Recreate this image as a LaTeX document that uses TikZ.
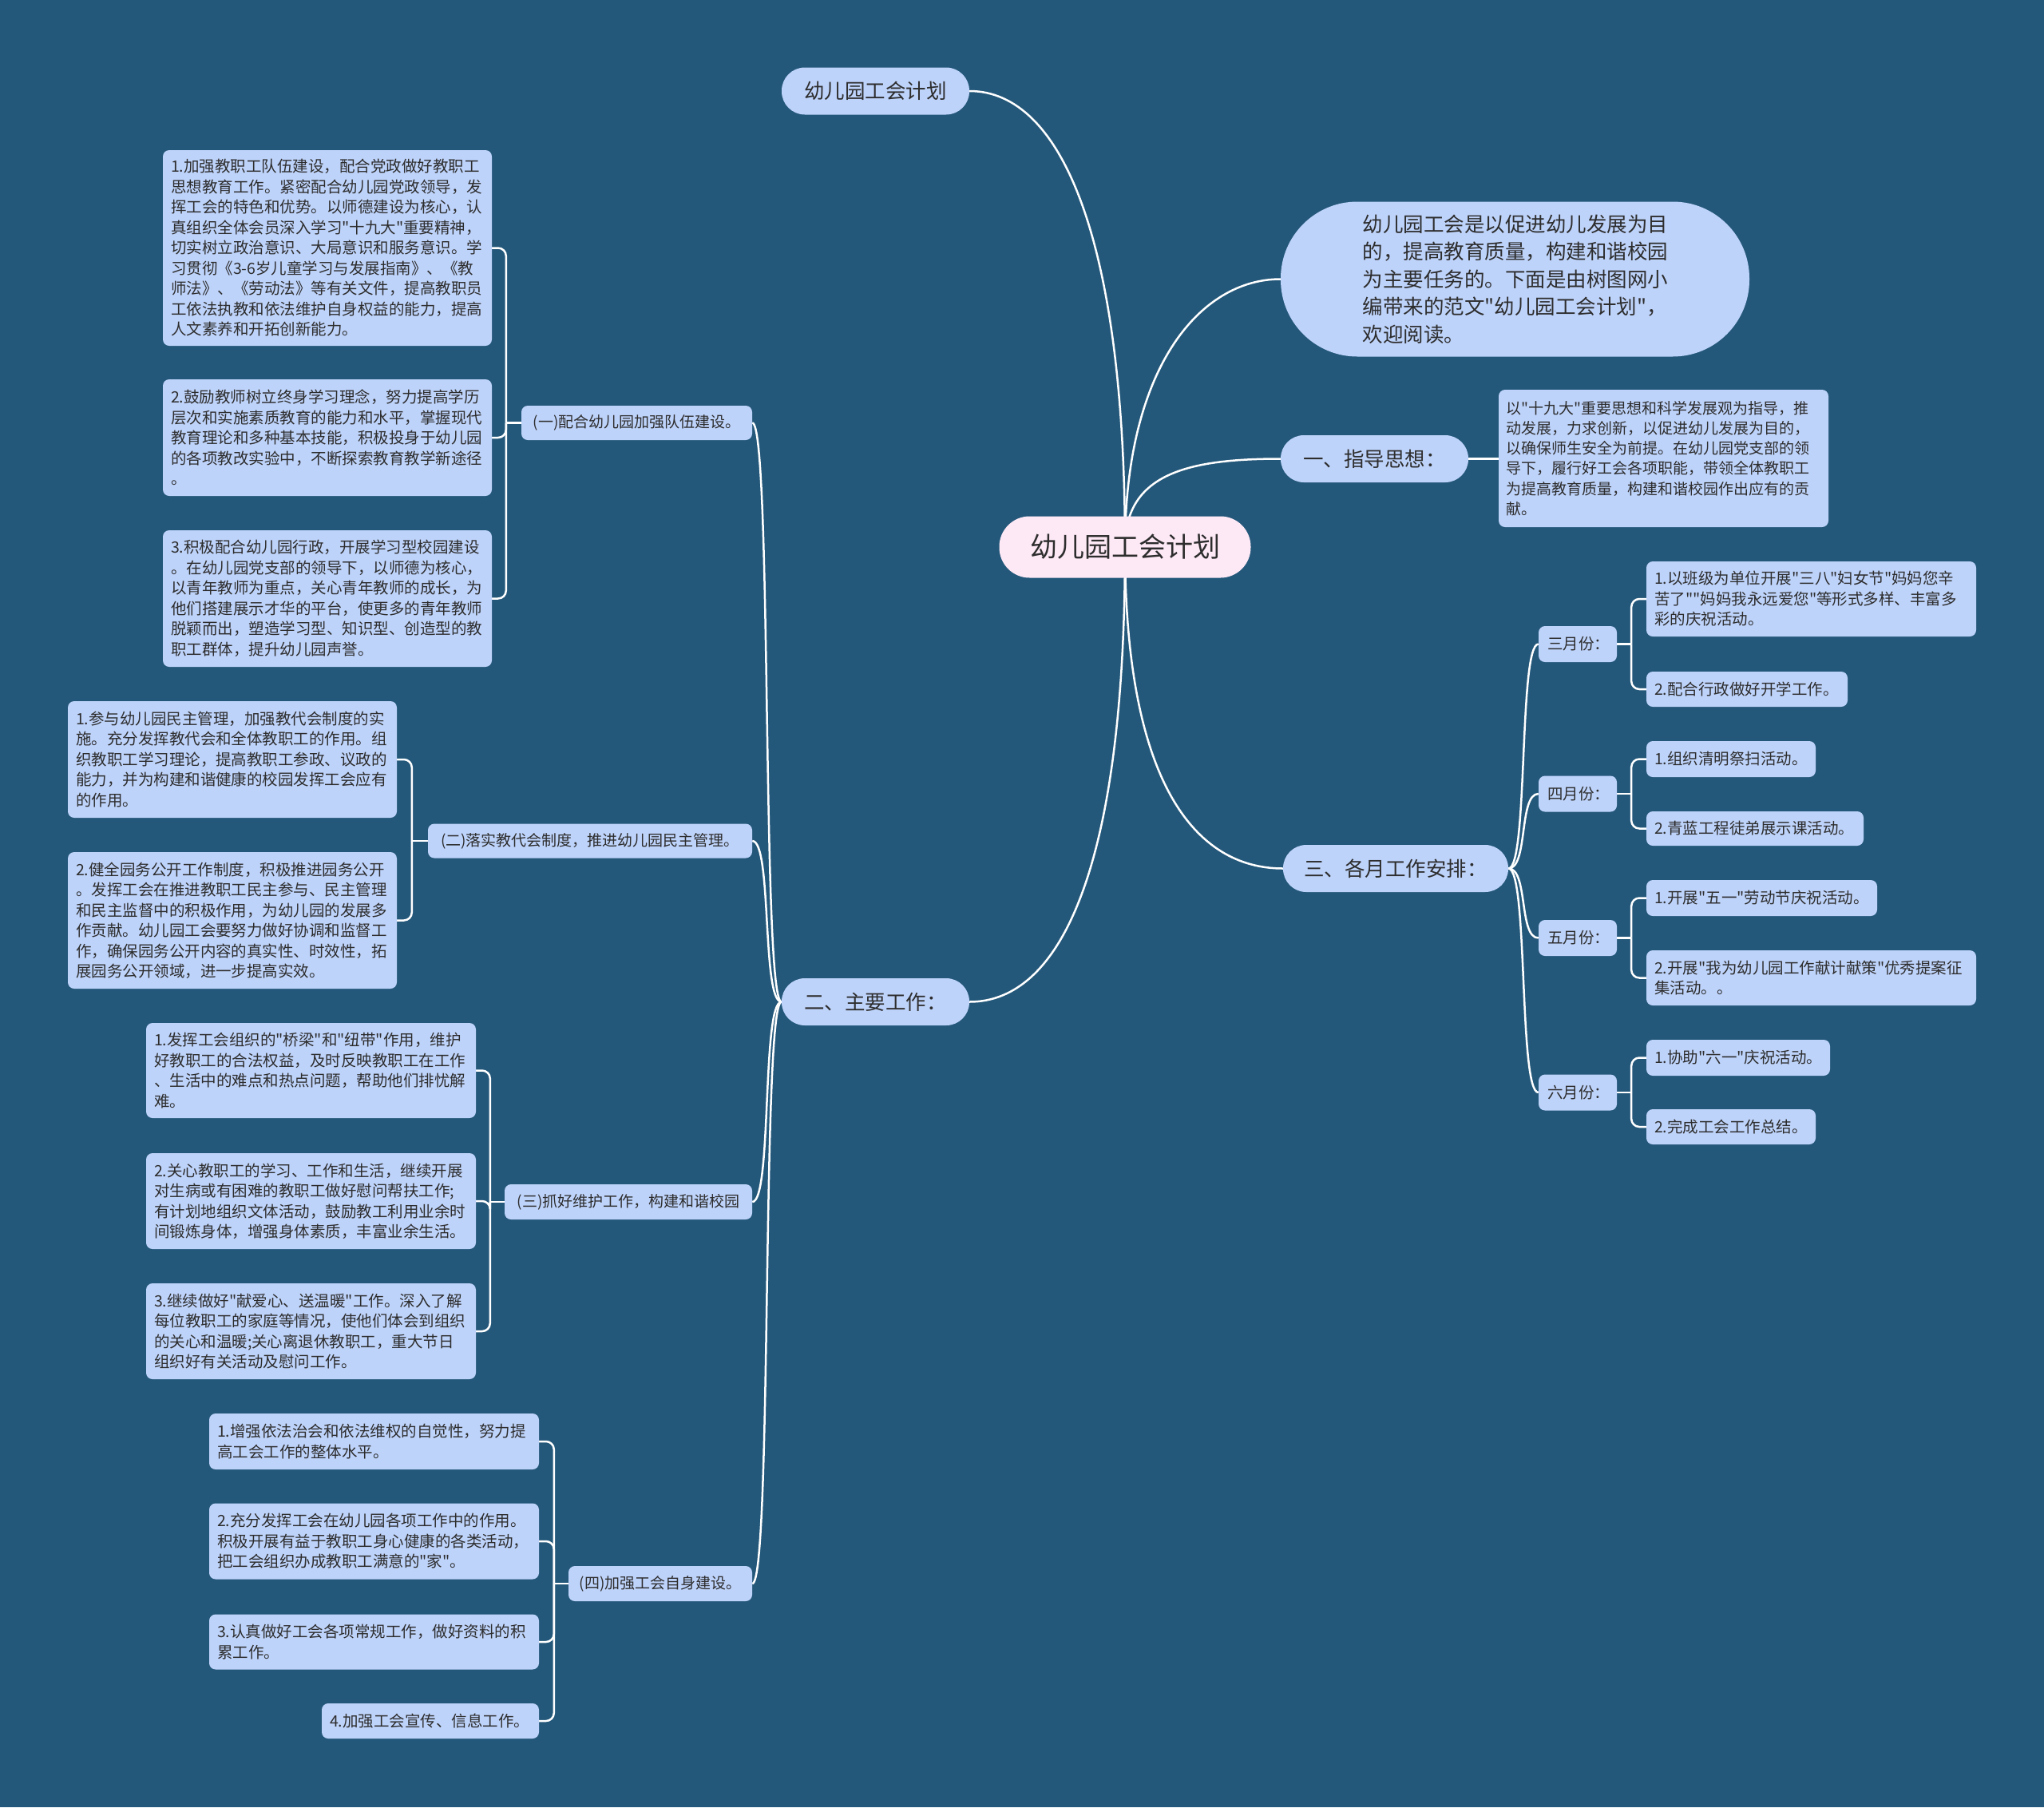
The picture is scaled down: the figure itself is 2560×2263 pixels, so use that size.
\documentclass[tikz,border=0pt]{standalone}
\usepackage{fontspec}
\newfontfamily\cj{Noto Sans CJK SC}
\definecolor{bgc}{HTML}{24587A}
\definecolor{leafc}{HTML}{BED3FA}
\definecolor{rootc}{HTML}{FDE8F5}
\definecolor{txt}{HTML}{2D2D2D}
\pgfdeclarelayer{back}
\pgfdeclarelayer{edges}
\pgfsetlayers{back,edges,main}
\begin{document}
\begin{tikzpicture}[x=1pt,y=-1pt,
  conn/.style={draw=white, line width=2.5pt},
  bconn/.style={draw=white, line width=2.5pt, rounded corners=10pt},
  leaf/.style={fill=leafc, text=txt, rounded corners=8pt, align=left, inner xsep=10pt, inner ysep=0pt, font=\cj\fontsize{19.5}{25.5}\selectfont},
  cat/.style={fill=leafc, text=txt, rounded corners=8pt, align=center, inner sep=0pt, font=\cj\fontsize{19}{25}\selectfont},
  month/.style={fill=leafc, text=txt, rounded corners=8pt, align=left, inner xsep=11pt, inner ysep=0pt, text width=76pt, minimum height=45pt, font=\cj\fontsize{19.5}{25.5}\selectfont},
  pill/.style={fill=leafc, text=txt, inner sep=0pt, minimum height=59pt, rounded corners=29pt, align=center, font=\cj\fontsize{25.5}{34.5}\selectfont},
  rootn/.style={fill=rootc, text=txt, inner sep=0pt, minimum width=315pt, minimum height=77pt, rounded corners=38pt, font=\cj\fontsize{34}{40}\selectfont}
]
\useasboundingbox (0,0) rectangle (2560,2263);
\begin{pgfonlayer}{back}
\fill[bgc] (0,0) rectangle (2560,2263);
\end{pgfonlayer}

% root and main branches
\node[rootn] (root) at (1409,685) {幼儿园工会计划};
\node[pill, minimum width=235pt] (title) at (1096.5,114) {幼儿园工会计划};
\node[pill, minimum width=587pt, minimum height=194pt, rounded corners=96pt, align=left, text width=382pt] (intro) at (1897.5,349.5) {幼儿园工会是以促进幼儿发展为目\\的，提高教育质量，构建和谐校园\\为主要任务的。下面是由树图网小\\编带来的范文"幼儿园工会计划"，\\欢迎阅读。};
\node[pill, minimum width=235pt] (g1) at (1721.5,574.5) {一、指导思想：};
\node[pill, minimum width=282pt] (g3) at (1748,1087.5) {三、各月工作安排：};
\node[pill, minimum width=235pt] (g2) at (1096.5,1254.5) {二、主要工作：};

% guiding thought leaf
\node[leaf, inner xsep=9pt, text width=395pt, minimum height=172pt, font=\cj\fontsize{19}{25.2}\selectfont] (g1l) at (2083.5,574) {以"十九大"重要思想和科学发展观为指导，推\\动发展，力求创新，以促进幼儿发展为目的，\\以确保师生安全为前提。在幼儿园党支部的领\\导下，履行好工会各项职能，带领全体教职工\\为提高教育质量，构建和谐校园作出应有的贡\\献。};

% categories
\node[cat, minimum width=289pt, minimum height=43pt] (c1) at (797.5,529.5) {(一)配合幼儿园加强队伍建设。};
\node[cat, minimum width=406pt, minimum height=43pt] (c2) at (739,1053) {(二)落实教代会制度，推进幼儿园民主管理。};
\node[cat, minimum width=310pt, minimum height=44pt] (c3) at (787,1505) {(三)抓好维护工作，构建和谐校园};
\node[cat, minimum width=230pt, minimum height=44pt] (c4) at (827,1983) {(四)加强工会自身建设。};

% leaves of (一)
\node[leaf, text width=392pt, minimum height=245pt] (a1) at (410,310.5) {1.加强教职工队伍建设，配合党政做好教职工\\思想教育工作。紧密配合幼儿园党政领导，发\\挥工会的特色和优势。以师德建设为核心，认\\真组织全体会员深入学习"十九大"重要精神，\\切实树立政治意识、大局意识和服务意识。学\\习贯彻《3-6岁儿童学习与发展指南》、《教\\师法》、《劳动法》等有关文件，提高教职员\\工依法执教和依法维护自身权益的能力，提高\\人文素养和开拓创新能力。};
\node[leaf, text width=392pt, minimum height=146pt] (a2) at (410,548) {2.鼓励教师树立终身学习理念，努力提高学历\\层次和实施素质教育的能力和水平，掌握现代\\教育理论和多种基本技能，积极投身于幼儿园\\的各项教改实验中，不断探索教育教学新途径\\。};
\node[leaf, text width=392pt, minimum height=171pt] (a3) at (410,749.5) {3.积极配合幼儿园行政，开展学习型校园建设\\。在幼儿园党支部的领导下，以师德为核心，\\以青年教师为重点，关心青年教师的成长，为\\他们搭建展示才华的平台，使更多的青年教师\\脱颖而出，塑造学习型、知识型、创造型的教\\职工群体，提升幼儿园声誉。};

% leaves of (二)
\node[leaf, text width=392pt, minimum height=146pt] (b1) at (291,951) {1.参与幼儿园民主管理，加强教代会制度的实\\施。充分发挥教代会和全体教职工的作用。组\\织教职工学习理论，提高教职工参政、议政的\\能力，并为构建和谐健康的校园发挥工会应有\\的作用。};
\node[leaf, text width=392pt, minimum height=171pt] (b2) at (291,1152.5) {2.健全园务公开工作制度，积极推进园务公开\\。发挥工会在推进教职工民主参与、民主管理\\和民主监督中的积极作用，为幼儿园的发展多\\作贡献。幼儿园工会要努力做好协调和监督工\\作，确保园务公开内容的真实性、时效性，拓\\展园务公开领域，进一步提高实效。};

% leaves of (三)
\node[leaf, text width=393pt, minimum height=119pt] (d1) at (389.5,1340.5) {1.发挥工会组织的"桥梁"和"纽带"作用，维护\\好教职工的合法权益，及时反映教职工在工作\\、生活中的难点和热点问题，帮助他们排忧解\\难。};
\node[leaf, text width=393pt, minimum height=120pt] (d2) at (389.5,1504) {2.关心教职工的学习、工作和生活，继续开展\\对生病或有困难的教职工做好慰问帮扶工作;\\有计划地组织文体活动，鼓励教工利用业余时\\间锻炼身体，增强身体素质，丰富业余生活。};
\node[leaf, text width=393pt, minimum height=120pt] (d3) at (389.5,1667) {3.继续做好"献爱心、送温暖"工作。深入了解\\每位教职工的家庭等情况，使他们体会到组织\\的关心和温暖;关心离退休教职工，重大节日\\组织好有关活动及慰问工作。};

% leaves of (四)
\node[leaf, text width=393pt, minimum height=70pt] (e1) at (468.5,1805) {1.增强依法治会和依法维权的自觉性，努力提\\高工会工作的整体水平。};
\node[leaf, text width=393pt, minimum height=95pt] (e2) at (468.5,1930) {2.充分发挥工会在幼儿园各项工作中的作用。\\积极开展有益于教职工身心健康的各类活动，\\把工会组织办成教职工满意的"家"。};
\node[leaf, text width=393pt, minimum height=69pt] (e3) at (468.5,2056) {3.认真做好工会各项常规工作，做好资料的积\\累工作。};
\node[leaf, text width=252pt, minimum height=44pt] (e4) at (539,2155) {4.加强工会宣传、信息工作。};

% months
\node[month] (m3) at (1976,806.5) {三月份：};
\node[month] (m4) at (1976,994) {四月份：};
\node[month] (m5) at (1976,1174.5) {五月份：};
\node[month] (m6) at (1976,1368) {六月份：};

\node[leaf, text width=393pt, minimum height=94pt] (m3a) at (2268.5,750) {1.以班级为单位开展"三八"妇女节"妈妈您辛\\苦了""妈妈我永远爱您"等形式多样、丰富多\\彩的庆祝活动。};
\node[leaf, text width=232pt, minimum height=44pt] (m3b) at (2188,863) {2.配合行政做好开学工作。};
\node[leaf, text width=192pt, minimum height=45pt] (m4a) at (2168,950.5) {1.组织清明祭扫活动。};
\node[leaf, text width=252pt, minimum height=43pt] (m4b) at (2198,1037.5) {2.青蓝工程徒弟展示课活动。};
\node[leaf, text width=269pt, minimum height=45pt] (m5a) at (2206.5,1124.5) {1.开展"五一"劳动节庆祝活动。};
\node[leaf, text width=393pt, minimum height=69pt] (m5b) at (2268.5,1224.5) {2.开展"我为幼儿园工作献计献策"优秀提案征\\集活动。。};
\node[leaf, text width=210pt, minimum height=45pt] (m6a) at (2177,1324.5) {1.协助"六一"庆祝活动。};
\node[leaf, text width=192pt, minimum height=44pt] (m6b) at (2168,1411) {2.完成工会工作总结。};

% junction coordinates
\coordinate (c1j) at ([xshift=-19pt]c1.west);
\coordinate (c2j) at ([xshift=-20pt]c2.west);
\coordinate (c3j) at ([xshift=-18pt]c3.west);
\coordinate (c4j) at ([xshift=-18pt]c4.west);
\coordinate (m3j) at ([xshift=18pt]m3.east);
\coordinate (m4j) at ([xshift=18pt]m4.east);
\coordinate (m5j) at ([xshift=18pt]m5.east);
\coordinate (m6j) at ([xshift=18pt]m6.east);

\begin{pgfonlayer}{edges}
% root connectors
\draw[conn] (root.center) .. controls +(0,-386) and +(115,0) .. (title.east);
\draw[conn] (root.center) .. controls +(0,-226) and +(-100,0) .. (intro.west);
\draw[conn] (root.center) .. controls +(0,-90) and +(-120,0) .. (g1.west);
\draw[conn] (root.center) .. controls +(0,295) and +(-110,0) .. (g3.west);
\draw[conn] (root.center) .. controls +(0,400) and +(115,0) .. (g2.east);
% guiding thought
\draw[conn] (g1.east) -- (g1.east -| g1l.west);
% main work to categories
\draw[conn] (g2.west) .. controls +(-25,0) and +(25,0) .. (c1.east);
\draw[conn] (g2.west) .. controls +(-25,0) and +(25,0) .. (c2.east);
\draw[conn] (g2.west) .. controls +(-25,0) and +(25,0) .. (c3.east);
\draw[conn] (g2.west) .. controls +(-25,0) and +(25,0) .. (c4.east);
% months
\draw[conn] (g3.east) .. controls +(25,0) and +(-25,0) .. (m3.west);
\draw[conn] (g3.east) .. controls +(25,0) and +(-25,0) .. (m4.west);
\draw[conn] (g3.east) .. controls +(25,0) and +(-25,0) .. (m5.west);
\draw[conn] (g3.east) .. controls +(25,0) and +(-25,0) .. (m6.west);
% category brackets
\draw[conn] (c1.west) -- (c1j);
\draw[bconn] (c1j) |- (a1.east);
\draw[bconn] (c1j) |- (a2.east);
\draw[bconn] (c1j) |- (a3.east);
\draw[conn] (c2.west) -- (c2j);
\draw[bconn] (c2j) |- (b1.east);
\draw[bconn] (c2j) |- (b2.east);
\draw[conn] (c3.west) -- (c3j);
\draw[bconn] (c3j) |- (d1.east);
\draw[bconn] (c3j) |- (d2.east);
\draw[bconn] (c3j) |- (d3.east);
\draw[conn] (c4.west) -- (c4j);
\draw[bconn] (c4j) |- (e1.east);
\draw[bconn] (c4j) |- (e2.east);
\draw[bconn] (c4j) |- (e3.east);
\draw[bconn] (c4j) |- (e4.east);
% month brackets
\draw[conn] (m3.east) -- (m3j);
\draw[bconn] (m3j) |- (m3a.west);
\draw[bconn] (m3j) |- (m3b.west);
\draw[conn] (m4.east) -- (m4j);
\draw[bconn] (m4j) |- (m4a.west);
\draw[bconn] (m4j) |- (m4b.west);
\draw[conn] (m5.east) -- (m5j);
\draw[bconn] (m5j) |- (m5a.west);
\draw[bconn] (m5j) |- (m5b.west);
\draw[conn] (m6.east) -- (m6j);
\draw[bconn] (m6j) |- (m6a.west);
\draw[bconn] (m6j) |- (m6b.west);
\end{pgfonlayer}
\end{tikzpicture}
\end{document}
